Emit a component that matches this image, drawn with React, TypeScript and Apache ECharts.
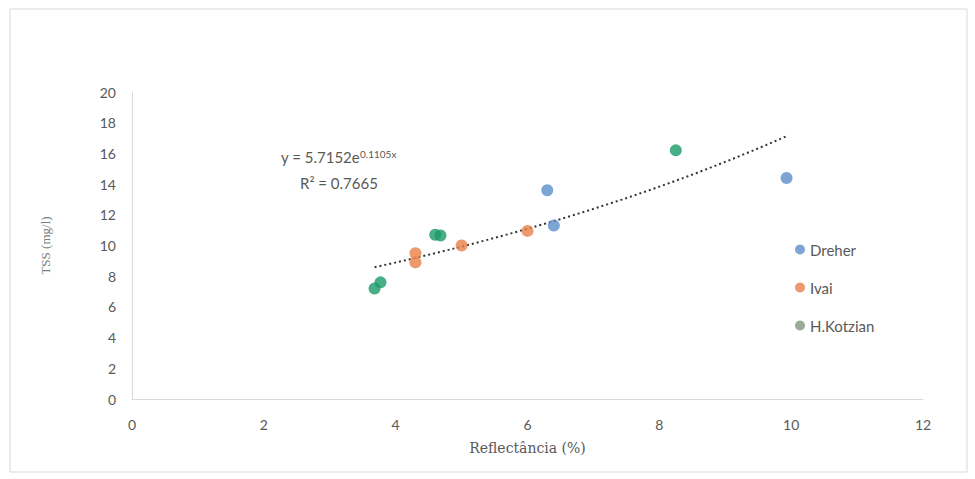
import React, { useEffect, useRef } from "react";
import * as echarts from "echarts";

// Reflectance (%) vs TSS (mg/l) per river
const dreher: [number, number][] = [
  [6.3, 13.6],
  [6.4, 11.3],
  [9.93, 14.4],
];
const ivai: [number, number][] = [
  [4.3, 9.5],
  [4.3, 8.9],
  [5.0, 10.0],
  [6.0, 10.95],
];
const kotzian: [number, number][] = [
  [3.68, 7.2],
  [3.77, 7.6],
  [4.6, 10.7],
  [4.68, 10.65],
  [8.25, 16.2],
];

// Exponential trend fitted over all points: y = a * e^(b x)
const TREND_A = 5.7152;
const TREND_B = 0.1105;
const TREND_R2 = "0.7665";

const X_TICKS = [0, 2, 4, 6, 8, 10, 12];
const Y_TICKS = [0, 2, 4, 6, 8, 10, 12, 14, 16, 18, 20];

function trendPoints(): [number, number][] {
  const xs = [...dreher, ...ivai, ...kotzian].map((p) => p[0]);
  const lo = Math.min(...xs);
  const hi = Math.max(...xs);
  const n = 60;
  const pts: [number, number][] = [];
  for (let i = 0; i <= n; i++) {
    const x = lo + ((hi - lo) * i) / n;
    pts.push([x, TREND_A * Math.exp(TREND_B * x)]);
  }
  return pts;
}

export default function App() {
  const ref = useRef<HTMLDivElement>(null);

  useEffect(() => {
    if (!ref.current) return;
    const chart = echarts.init(ref.current, undefined, { renderer: "svg" });
    const tickFont = { fontFamily: "Lato, 'Open Sans', sans-serif", fontSize: 14, color: "#595959" };
    chart.setOption({
      animation: false,
      backgroundColor: "#ffffff",
      grid: { left: 132, right: 52, top: 92, bottom: 80 },
      xAxis: {
        type: "value",
        min: X_TICKS[0],
        max: X_TICKS[X_TICKS.length - 1],
        interval: 2,
        name: "Reflectância (%)",
        nameLocation: "middle",
        nameGap: 42,
        nameTextStyle: { fontFamily: "'DejaVu Serif', 'Liberation Serif', serif", fontSize: 14, color: "#595959" },
        axisLine: { lineStyle: { color: "#d9d9d9", width: 1 } },
        axisTick: { show: false },
        splitLine: { show: false },
        axisLabel: { ...tickFont, margin: 18 },
      },
      yAxis: {
        type: "value",
        min: Y_TICKS[0],
        max: Y_TICKS[Y_TICKS.length - 1],
        interval: 2,
        name: "TSS (mg/l)",
        nameLocation: "middle",
        nameRotate: 90,
        nameGap: 80,
        nameTextStyle: { fontFamily: "'Liberation Serif', serif", fontSize: 13, color: "#7f7f7f" },
        axisLine: { show: true, lineStyle: { color: "#d9d9d9", width: 1 } },
        axisTick: { show: false },
        splitLine: { show: false },
        axisLabel: { ...tickFont, margin: 16 },
      },
      legend: {
        orient: "vertical",
        left: 790,
        top: 237,
        itemGap: 23,
        itemWidth: 10,
        itemHeight: 10,
        textStyle: { fontFamily: "Lato, 'Open Sans', sans-serif", fontSize: 15, color: "#595959" },
        data: [
          { name: "Dreher", icon: "circle", itemStyle: { color: "#5B8FC9" } },
          { name: "Ivai", icon: "circle", itemStyle: { color: "#E8804A" } },
          { name: "H.Kotzian", icon: "circle", itemStyle: { color: "#7E977F" } },
        ],
      },
      graphic: [
        {
          type: "rect",
          shape: { x: 10, y: 9, width: 957, height: 463 },
          style: { fill: "none", stroke: "#d9d9d9", lineWidth: 1 },
          silent: true,
        },
        {
          type: "text",
          left: 281,
          top: 149,
          style: {
            text: `{t|y = ${TREND_A}e}{s|${TREND_B}x}`,
            rich: {
              t: { fontFamily: "Lato, 'Open Sans', sans-serif", fontSize: 15, fill: "#595959" },
              s: { fontFamily: "Lato, 'Open Sans', sans-serif", fontSize: 10, fill: "#595959", verticalAlign: "top", padding: [0, 0, 6, 0] },
            },
          },
        },
        {
          type: "text",
          left: 300,
          top: 175,
          style: {
            text: `R² = ${TREND_R2}`,
            fontFamily: "Lato, 'Open Sans', sans-serif",
            fontSize: 15,
            fill: "#595959",
          },
        },
      ],
      series: [
        {
          name: "Trend",
          type: "line",
          data: trendPoints(),
          showSymbol: false,
          silent: true,
          lineStyle: { color: "#333333", width: 2, type: [2, 3] },
          z: 1,
        },
        {
          name: "Dreher",
          type: "scatter",
          data: dreher,
          symbolSize: 12,
          itemStyle: { color: "#5B8FC9" },
          z: 3,
        },
        {
          name: "Ivai",
          type: "scatter",
          data: ivai,
          symbolSize: 12,
          itemStyle: { color: "#E8804A" },
          z: 3,
        },
        {
          name: "H.Kotzian",
          type: "scatter",
          data: kotzian,
          symbolSize: 12,
          itemStyle: { color: "#1A9A68" },
          z: 3,
        },
      ],
    });
    return () => chart.dispose();
  }, []);

  return (
    <div
      ref={ref}
      style={{ position: "absolute", left: 0, top: 0, width: 975, height: 479 }}
    />
  );
}
